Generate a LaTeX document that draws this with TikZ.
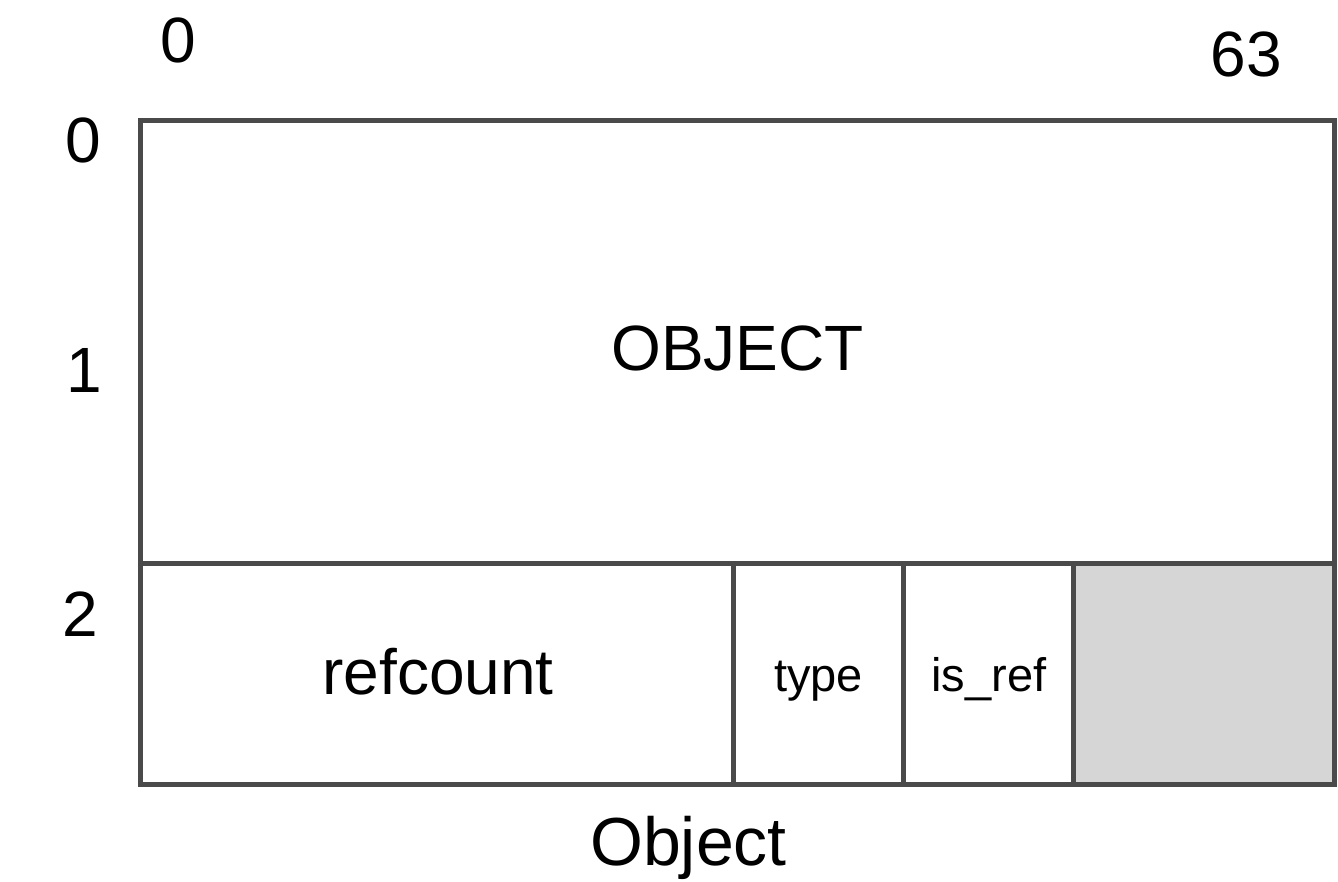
\documentclass[tikz,border=0pt]{standalone}
\usepackage{fontspec}
\setmainfont{Liberation Sans}
\begin{document}
\begin{tikzpicture}[x=1pt,y=1pt,
  cell/.style={draw=linegray,line width=5pt,rectangle,inner sep=0pt,outer sep=0pt},
  big/.style={font=\fontsize{64}{64}\selectfont,anchor=base,inner sep=0pt},
  small/.style={font=\fontsize{47}{47}\selectfont,anchor=base,inner sep=0pt},
  caption/.style={font=\fontsize{68}{68}\selectfont,anchor=base,inner sep=0pt}]
\definecolor{linegray}{HTML}{4A4A4A}
\definecolor{padgray}{HTML}{D6D6D6}
\useasboundingbox (0,0) rectangle (1338,882);
% cells (x from left, y from bottom)
\node[cell,minimum width=593pt,minimum height=221pt] (refcount) at (436.5,208) {};
\node[cell,minimum width=170.5pt,minimum height=221pt] (type) at (818.25,208) {};
\node[cell,minimum width=170pt,minimum height=221pt] (isref) at (988.5,208) {};
\node[cell,fill=padgray,minimum width=260.5pt,minimum height=221pt] (pad) at (1203.75,208) {};
\node[cell,minimum width=1194pt,minimum height=442.5pt] (obj) at (737,539.75) {};
% cell labels
\node[big] (lobj) at (737.5,511) {OBJECT};
\node[big] (lref) at (438,187) {refcount};
\node[small] (ltype) at (818.5,190) {type};
\node[small] (lisref) at (989,190) {is\_ref};
% axis labels
\node[big] (c0) at (178,819) {0};
\node[big] (c63) at (1246.5,805) {63};
\node[big] (r0) at (83,719) {0};
\node[big] (r1) at (84,489) {1};
\node[big] (r2) at (80,245) {2};
\node[caption] (cap) at (688.5,16) {Object};
\end{tikzpicture}
\end{document}
